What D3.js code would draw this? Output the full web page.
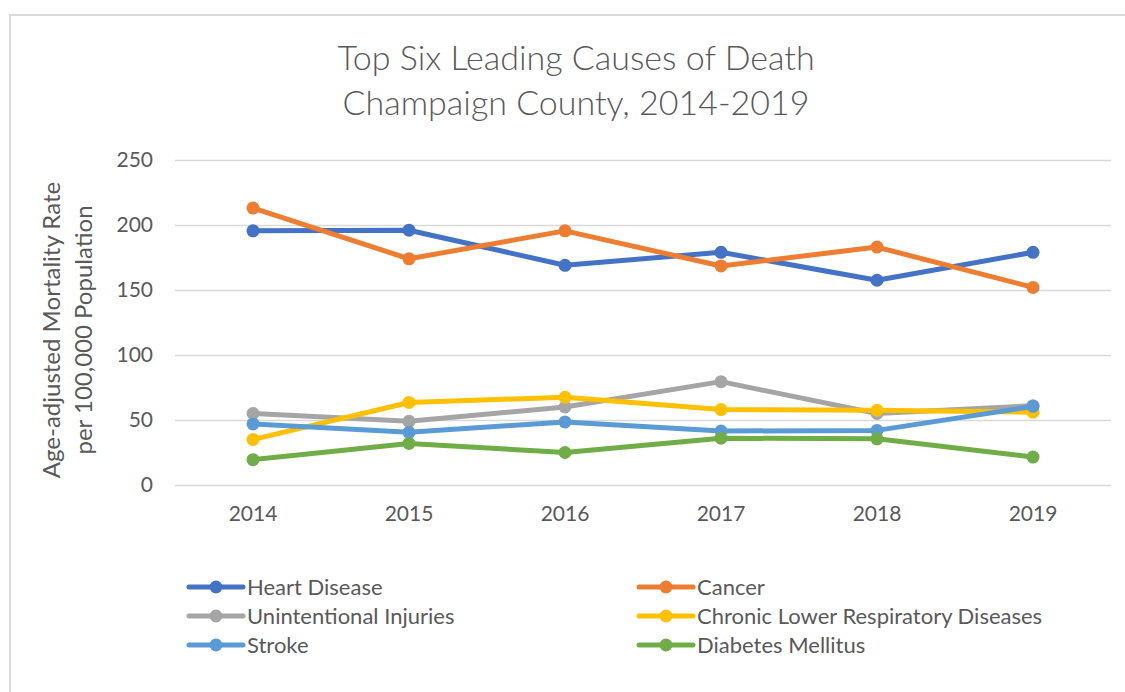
<!DOCTYPE html>
<html>
<head>
<meta charset="utf-8">
<script src="https://cdn.jsdelivr.net/npm/d3@7"></script>
<style>
  html, body { margin: 0; padding: 0; background: #fff; }
  svg { display: block; }
  text { font-family: Lato, "Open Sans", "DejaVu Sans", sans-serif; fill: #595959; }
</style>
</head>
<body>
<svg id="chart" width="1125" height="692"></svg>
<script>
const years = ["2014", "2015", "2016", "2017", "2018", "2019"];
const seriesNames = ["Heart Disease", "Cancer", "Unintentional Injuries", "Chronic Lower Respiratory Diseases", "Stroke", "Diabetes Mellitus"];
const heartDisease = [195.5, 196, 169, 179, 157.5, 179];
const cancer = [213, 174, 195.5, 168.5, 183, 152];
const unintentionalInjuries = [55, 49, 60, 79.5, 55, 61];
const chronicLowerRespiratory = [35, 63.5, 67.5, 58, 57.5, 56];
const stroke = [47, 40.5, 48.5, 41.5, 42, 60.5];
const diabetesMellitus = [19.5, 32, 25, 36, 35.5, 21.5];
const yTicks = [0, 50, 100, 150, 200, 250];
const titleLines = ["Top Six Leading Causes of Death", "Champaign County, 2014-2019"];
const yTitleLines = ["Age-adjusted Mortality Rate", "per 100,000 Population"];
const colors = ["#4472C4", "#ED7D31", "#A5A5A5", "#FFC000", "#5B9BD5", "#70AD47"];

const seriesValues = [heartDisease, cancer, unintentionalInjuries, chronicLowerRespiratory, stroke, diabetesMellitus];
const series = seriesNames.map((name, i) => ({ name, color: colors[i], values: seriesValues[i] }));

const svg = d3.select("#chart");
svg.append("rect").attr("width", 1125).attr("height", 692).attr("fill", "#fff");
// chart area border
svg.append("rect").attr("x", 10).attr("y", 15).attr("width", 1300).attr("height", 900)
  .attr("fill", "none").attr("stroke", "#D9D9D9").attr("stroke-width", 2);

const plot = { left: 175, right: 1111, top: 160, bottom: 485 };

const x = d3.scaleBand().domain(years).range([plot.left, plot.right]);
const xc = d => x(d) + x.bandwidth() / 2;
const y = d3.scaleLinear().domain([0, 250]).range([plot.bottom, plot.top]);

// y axis with gridlines
const yAxis = svg.append("g").attr("transform", `translate(${plot.left},0)`)
  .call(d3.axisLeft(y).tickValues(yTicks).tickSize(-(plot.right - plot.left)).tickPadding(22));
yAxis.select(".domain").remove();
yAxis.selectAll(".tick line").attr("stroke", "#D9D9D9").attr("stroke-width", 1.5);
yAxis.selectAll(".tick text").attr("font-size", 21).style("fill", "#595959")
  .attr("font-family", "Lato, 'Open Sans', sans-serif");

// x axis
const xAxis = svg.append("g").attr("transform", `translate(0,${plot.bottom})`)
  .call(d3.axisBottom(x).tickSize(0).tickPadding(21));
xAxis.select(".domain").remove();
xAxis.selectAll(".tick text").attr("font-size", 21).style("fill", "#595959")
  .attr("font-family", "Lato, 'Open Sans', sans-serif");

// lines
const line = d3.line().x((d, i) => xc(years[i])).y(d => y(d));
const gSeries = svg.append("g");
series.forEach(s => {
  const g = gSeries.append("g");
  g.append("path").attr("d", line(s.values)).attr("fill", "none")
    .attr("stroke", s.color).attr("stroke-width", 5).attr("stroke-linejoin", "round").attr("stroke-linecap", "round");
  g.selectAll("circle").data(s.values).join("circle")
    .attr("cx", (d, i) => xc(years[i])).attr("cy", d => y(d)).attr("r", 6.5).attr("fill", s.color);
});

// title
svg.append("text").attr("x", 576).attr("y", 70).attr("text-anchor", "middle")
  .attr("font-size", 34).attr("font-weight", 300)
  .selectAll("tspan").data(titleLines).join("tspan")
  .attr("x", 576).attr("dy", (d, i) => i === 0 ? 0 : 45).text(d => d);

// y axis title
yTitleLines.forEach((t, i) => {
  svg.append("text").attr("font-size", 24).attr("text-anchor", "middle")
    .attr("transform", `translate(${60 + i * 32},330) rotate(-90)`).text(t);
});

// legend
const legCols = [187, 637];
const legRows = [587, 616, 645];
series.forEach((s, i) => {
  const lx = legCols[i % 2], ly = legRows[Math.floor(i / 2)];
  const g = svg.append("g").attr("transform", `translate(${lx},${ly})`);
  g.append("line").attr("x1", 2).attr("x2", 56).attr("stroke", s.color).attr("stroke-width", 5).attr("stroke-linecap", "round");
  g.append("circle").attr("cx", 29).attr("r", 6.5).attr("fill", s.color);
  g.append("text").attr("x", 60).attr("dy", "0.35em").attr("font-size", 22).text(s.name);
});
</script>
</body>
</html>
